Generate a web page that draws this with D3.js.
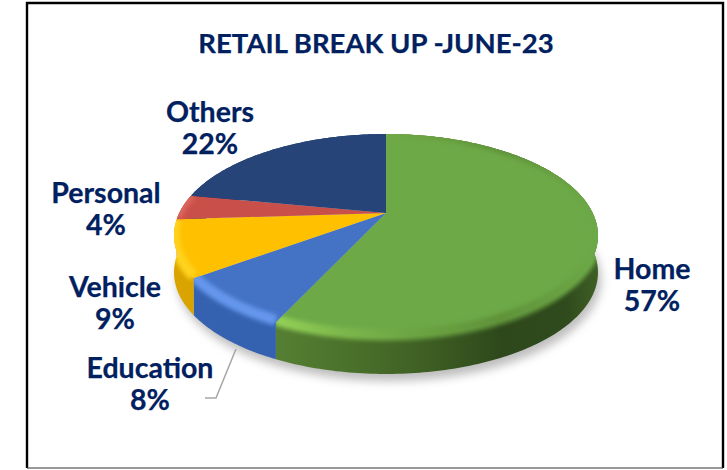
<!DOCTYPE html>
<html>
<head>
<meta charset="utf-8">
<script src="https://cdn.jsdelivr.net/npm/d3@7"></script>
<style>
html, body { margin: 0; padding: 0; background: #fff; }
svg { display: block; }
text { fill: #002060; stroke: #002060; stroke-width: 0.25px; font-family: Lato, sans-serif; font-weight: 700; text-anchor: middle; }
</style>
</head>
<body>
<svg id="chart" width="727" height="470"></svg>
<script>
// chart values, clockwise from 12 o'clock
const categories = ["Home", "Education", "Vehicle", "Personal", "Others"];
const shares = [57, 8, 9, 4, 22];
const sliceColors = ["#6DA947", "#4472C4", "#FFC000", "#C9504A", "#264478"];
const wallColors = ["url(#greenWall)", "#3562B0", "#D9A300", "#A33F3A", "#1D3560"];
const bevelColors = ["url(#greenBevel)", "#6396EC", "#FFD21F", "#DC655C", null];
const titleText = "RETAIL BREAK UP -JUNE-23";

// where the labels sit (centre x, first line baseline)
const labelSpots = [[652, 279], [150, 378], [115, 297], [106, 203], [210, 122]];

const svg = d3.select("#chart");
const defs = svg.append("defs");

// the pie is a tilted disc: circle -> screen through a perspective map
const apexX = 386, apexY = 213, depth = 37;
const tilt = -0.2217, scaleU = 206.7, scaleV = 96.5;
function project(angle){
    var u = Math.sin(angle), v = -Math.cos(angle);
    var w = 1 + tilt * v;
    return [apexX + scaleU * u / w, apexY + scaleV * v / w];
}
function edgePoints(a0, a1){
    var n = Math.max(4, Math.ceil((a1 - a0) * 60));
    return d3.range(n + 1).map(function(i){ return project(a0 + (a1 - a0) * i / n); });
}
const lineGen = d3.line();

function addGradient(id, stops){
    var g = defs.append("linearGradient").attr("id", id)
        .attr("gradientUnits", "userSpaceOnUse")
        .attr("x1", 276).attr("x2", 598).attr("y1", 0).attr("y2", 0);
    stops.forEach(function(s){
        g.append("stop").attr("offset", s[0]).attr("stop-color", s[1]);
    });
}
addGradient("greenWall", [[0, "#557F33"], [0.2, "#4C732C"], [0.45, "#3F6024"], [0.7, "#2E481B"], [0.9, "#2F4A1C"], [1, "#3E5F25"]]);
addGradient("greenBevel", [[0, "#93D056"], [0.2, "#7DB84C"], [0.4, "#6DA643"], [0.7, "#5F9239"], [1, "#6DA947"]]);

function addBlur(id, amount){
    defs.append("filter").attr("id", id).attr("filterUnits", "userSpaceOnUse")
        .attr("x", 0).attr("y", 0).attr("width", 727).attr("height", 470)
        .append("feGaussianBlur").attr("stdDeviation", amount);
}
addBlur("soft", 5);
addBlur("softEdge", 2);

// frame
svg.append("path").attr("d", "M27,468V3H723V468").attr("fill", "none").attr("stroke", "#000").attr("stroke-width", 2.4);
svg.append("line").attr("x1", 27).attr("x2", 723).attr("y1", 468).attr("y2", 468).attr("stroke", "#333").attr("stroke-width", 1);

svg.append("text").attr("x", 376).attr("y", 53).attr("font-size", 27.5).text(titleText);

const slices = d3.pie().sort(null)(shares);
const pieG = svg.append("g");

// soft shadow under the disc
var whole = edgePoints(0, 2 * Math.PI);
pieG.append("path")
    .attr("d", lineGen(whole.map(function(p){ return [p[0] + 3, p[1] + depth + 7]; })) + "Z")
    .attr("fill", "#bdbdbd").attr("filter", "url(#soft)");

function wallPath(pts){
    var low = pts.map(function(p){ return [p[0], p[1] + depth]; }).reverse();
    return lineGen(pts.concat(low)) + "Z";
}
function facePath(pts){
    return lineGen([[apexX, apexY]].concat(pts)) + "Z";
}

// side walls first, the top faces cover their back half
slices.forEach(function(s, i){
    var pts = edgePoints(s.startAngle, s.endAngle);
    pieG.append("path").attr("d", wallPath(pts)).attr("fill", wallColors[i]);
});

// top faces
slices.forEach(function(s, i){
    var pts = edgePoints(s.startAngle, s.endAngle);
    pieG.append("path").attr("d", facePath(pts)).attr("fill", sliceColors[i]);
});

// rounded rim: lighter band over the edge, kept inside each slice's face + wall
slices.forEach(function(s, i){
    if(!bevelColors[i]) return;
    var pts = edgePoints(s.startAngle, s.endAngle);
    var clip = defs.append("clipPath").attr("id", "rim" + i);
    clip.append("path").attr("d", facePath(pts));
    clip.append("path").attr("d", wallPath(pts));
    pieG.append("g").attr("clip-path", "url(#rim" + i + ")")
        .append("path").attr("d", lineGen(pts))
        .attr("fill", "none").attr("stroke", bevelColors[i]).attr("stroke-width", 11)
        .attr("transform", "translate(0,-2)")
        .attr("filter", "url(#softEdge)");
});

// leader for Education
svg.append("path").attr("d", "M236,349L216,398H205").attr("fill", "none")
    .attr("stroke", "#A6A6A6").attr("stroke-width", 1.5);

// labels
categories.forEach(function(c, i){
    var t = svg.append("text").attr("font-size", 28.5);
    t.append("tspan").attr("x", labelSpots[i][0]).attr("y", labelSpots[i][1]).text(c);
    t.append("tspan").attr("x", labelSpots[i][0]).attr("y", labelSpots[i][1] + 32).text(shares[i] + "%");
});
</script>
</body>
</html>
